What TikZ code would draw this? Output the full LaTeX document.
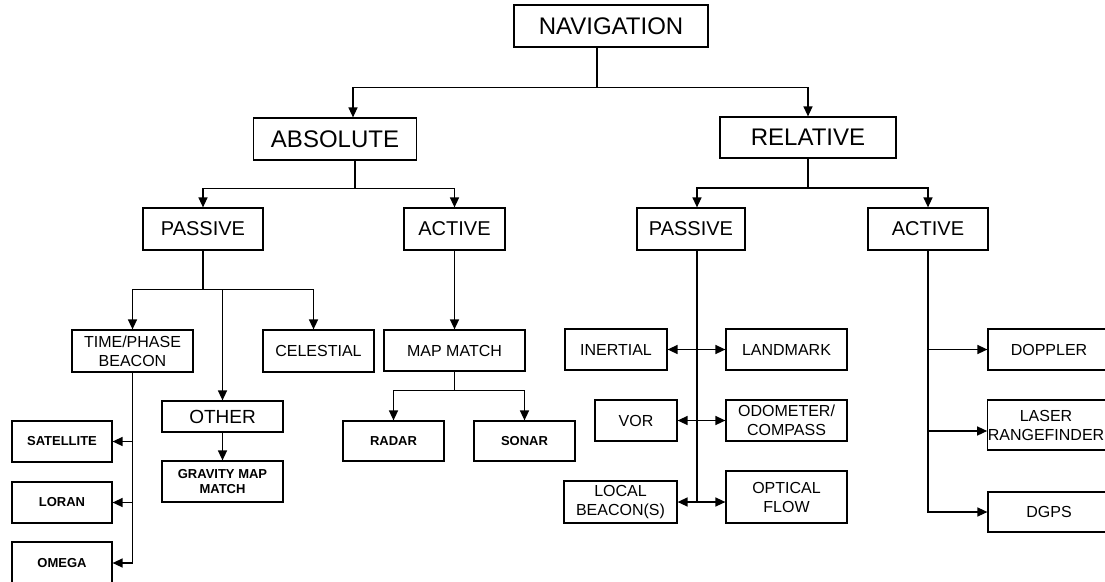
\documentclass[tikz,border=0pt]{standalone}
\usepackage{fontspec}
\setmainfont{Liberation Sans}
\usetikzlibrary{arrows.meta}
\begin{document}
\begin{tikzpicture}[x=1pt,y=-1pt,
  box/.style={draw, line width=1.2pt, inner sep=0pt, align=center, anchor=center},
  lvlone/.style={box, font=\fontsize{24}{28}\selectfont},
  lvltwo/.style={box, font=\fontsize{20}{24}\selectfont},
  lvlthree/.style={box, font=\fontsize{16}{19}\selectfont},
  leaf/.style={box, font=\bfseries\fontsize{13}{15}\selectfont},
  link/.style={line width=1.4pt},
  tip/.tip={Triangle[length=10pt,width=9pt]},
  arr/.style={link, -tip},
  darr/.style={link, tip-tip},
  sz/.style 2 args={minimum width=#1pt, minimum height=#2pt}
]
\useasboundingbox (0,0) rectangle (1105,581);
\clip (0,0) rectangle (1105,581);

% top levels
\node[lvlone, sz={194}{42}] (nav) at (611,26) {NAVIGATION};
\node[lvlone, sz={163}{42}] (abs) at (335,139) {ABSOLUTE};
\node[lvlone, sz={176}{41}] (rel) at (808,137.5) {RELATIVE};

\node[lvltwo, sz={120}{42}] (pasA) at (203,229) {PASSIVE};
\node[lvltwo, sz={101}{42}] (actA) at (454.5,229) {ACTIVE};
\node[lvltwo, sz={108}{42}] (pasR) at (691,229) {PASSIVE};
\node[lvltwo, sz={120}{42}] (actR) at (928,229) {ACTIVE};

% absolute / passive branch
\node[lvlthree, sz={121}{42}] (tpb) at (132.5,351) {TIME/PHASE\\BEACON};
\node[lvlthree, sz={111}{42}] (cel) at (318.5,351) {CELESTIAL};
\node[box, font=\fontsize{19}{22}\selectfont, sz={121}{31}] (oth) at (222.5,416.5) {OTHER};
\node[leaf, sz={121}{41}] (grav) at (222.5,481.5) {GRAVITY MAP\\MATCH};
\node[leaf, sz={100}{41}] (sat) at (62,441.5) {SATELLITE};
\node[leaf, sz={100}{41}] (lor) at (62,502.5) {LORAN};
\node[leaf, sz={100}{42}] (ome) at (62,563) {OMEGA};

% absolute / active branch
\node[lvlthree, sz={141}{41}] (mm) at (454.5,350.5) {MAP MATCH};
\node[leaf, sz={101}{40}] (rad) at (393.5,441) {RADAR};
\node[leaf, sz={101}{40}] (son) at (524.5,441) {SONAR};

% relative / passive branch
\node[lvlthree, sz={102}{41}] (ine) at (616,349.5) {INERTIAL};
\node[lvlthree, sz={121}{41}] (lan) at (786.5,349.5) {LANDMARK};
\node[lvlthree, sz={82}{41}] (vor) at (636,420.5) {VOR};
\node[lvlthree, sz={121}{41}] (odo) at (786.5,420.5) {ODOMETER/\\COMPASS};
\node[lvlthree, sz={113}{42}] (loc) at (620.5,502) {LOCAL\\BEACON(S)};
\node[lvlthree, sz={121}{52}] (opt) at (786.5,497) {OPTICAL\\FLOW};

% relative / active branch (boxes run past the right edge)
\node[lvlthree, sz={122}{41}] (dop) at (1049,349.5) {DOPPLER};
\node[lvlthree, sz={123}{50}] (las) at (1049.5,425) {LASER\hspace*{7pt}\\RANGEFINDER\hspace*{7pt}};
\node[lvlthree, sz={122}{40}] (dgp) at (1049,512) {DGPS};

% connectors
\draw[link] ([xshift=-14pt]nav.south) -- ++(0,40) coordinate (nj);
\draw[arr] (nj) -| ([xshift=18pt]abs.north);
\draw[arr] (nj) -| (rel.north);

\draw[link] ([xshift=20pt]abs.south) -- ++(0,28) coordinate (aj);
\draw[arr] (aj) -| (pasA.north);
\draw[arr] (aj) -| (actA.north);

\draw[link] (rel.south) -- ++(0,29.5) coordinate (rj);
\draw[arr] (rj) -| ([xshift=6pt]pasR.north);
\draw[arr] (rj) -| (actR.north);

\draw[link] (pasA.south) -- ++(0,39) coordinate (pj);
\draw[arr] (pj) -| (tpb.north);
\draw[arr] (pj) -| ([xshift=-5pt]cel.north);
\draw[arr] (pj) -| (oth.north);
\draw[arr] (oth.south) -- (grav.north);
\draw[arr] (tpb.south) |- (sat.east);
\draw[arr] (tpb.south) |- (lor.east);
\draw[arr] (tpb.south) |- (ome.east);

\draw[arr] (actA.south) -- (mm.north);
\draw[link] (mm.south) -- ++(0,19) coordinate (mj);
\draw[arr] (mj) -| (rad.north);
\draw[arr] (mj) -| (son.north);

\draw[link] ([xshift=6pt]pasR.south) -- ([xshift=6pt]pasR.south |- loc.east);
\draw[darr] (ine.east) -- (lan.west);
\draw[darr] (vor.east) -- (odo.west);
\draw[darr] (loc.east) -- (loc.east -| opt.west);

\draw[arr] (actR.south) |- (dop.west);
\draw[arr] (actR.south) |- ([yshift=-6pt]las.west);
\draw[arr] (actR.south) |- (dgp.west);
\end{tikzpicture}
\end{document}
